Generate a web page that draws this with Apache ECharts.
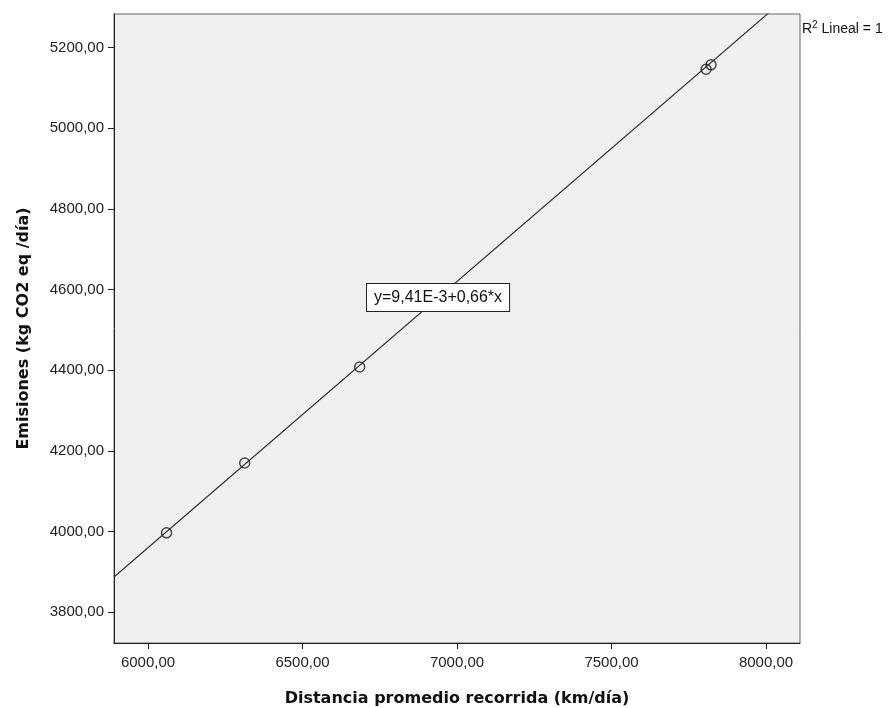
<!DOCTYPE html>
<html>
<head>
<meta charset="utf-8">
<script src="https://cdn.jsdelivr.net/npm/echarts@6/dist/echarts.min.js"></script>
<style>
  html, body { margin: 0; padding: 0; background: #fff; }
  #chart { width: 890px; height: 708px; }
</style>
</head>
<body>
<div id="chart"></div>
<script>
// observed points (distance km/dia, emissions kg CO2 eq/dia)
var distancia = [6060, 6313, 6685, 7806, 7822];
var emisiones = [3997, 4170, 4408, 5146, 5157];

// linear fit reported by the chart
var intercepto = 9.41e-3;
var pendiente = 0.66;

var xMin = 5890, xMax = 8110;
var yMin = 3724, yMax = 5283;
var xTicks = [6000, 6500, 7000, 7500, 8000];
var yTicks = [3800, 4000, 4200, 4400, 4600, 4800, 5000, 5200];

var puntos = distancia.map(function (d, i) { return [d, emisiones[i]]; });
var ajuste = [[xMin, intercepto + pendiente * xMin], [xMax, intercepto + pendiente * xMax]];

var fmt = function (v) { return v.toFixed(2).replace('.', ','); };

var chart = echarts.init(document.getElementById('chart'));
chart.setOption({
  animation: false,
  grid: {
    left: 114, right: 90, top: 14, bottom: 65,
    outerBoundsMode: 'none',
    show: true, backgroundColor: '#f0f0f0', borderColor: '#666', borderWidth: 1
  },
  xAxis: {
    type: 'value', min: xMin, max: xMax,
    name: 'Distancia promedio recorrida (km/día)',
    nameLocation: 'middle', nameGap: 48,
    nameTextStyle: { fontFamily: 'DejaVu Sans', fontWeight: 'bold', fontSize: 16, color: '#111' },
    axisLine: { show: true, onZero: false, lineStyle: { color: '#222', width: 1 } },
    axisTick: { show: true, length: 6, lineStyle: { color: '#222' }, customValues: xTicks },
    axisLabel: { fontFamily: 'Liberation Sans', fontSize: 15, color: '#222', margin: 12,
      customValues: xTicks, formatter: fmt },
    splitLine: { show: false }
  },
  yAxis: {
    type: 'value', min: yMin, max: yMax,
    name: 'Emisiones (kg CO2 eq /día)',
    nameLocation: 'middle', nameGap: 82,
    nameTextStyle: { fontFamily: 'DejaVu Sans', fontWeight: 'bold', fontSize: 16, color: '#111' },
    axisLine: { show: true, onZero: false, lineStyle: { color: '#222', width: 1 } },
    axisTick: { show: true, length: 6, lineStyle: { color: '#222' }, customValues: yTicks },
    axisLabel: { fontFamily: 'Liberation Sans', fontSize: 15, color: '#222', margin: 10,
      customValues: yTicks, formatter: fmt },
    splitLine: { show: false }
  },
  series: [{
    type: 'line',
    data: ajuste,
    symbol: 'none',
    clip: true,
    lineStyle: { color: '#333', width: 1.2 },
    z: 2
  }, {
    type: 'scatter',
    data: puntos,
    symbol: 'circle',
    symbolSize: 10,
    itemStyle: { color: 'rgba(0,0,0,0)', borderColor: '#222', borderWidth: 1.5 },
    z: 3
  }],
  graphic: [{
    type: 'text',
    left: 366, top: 283,
    style: {
      text: 'y=9,41E-3+0,66*x',
      fontFamily: 'Liberation Sans', fontSize: 16, fill: '#111',
      backgroundColor: '#fff', borderColor: '#222', borderWidth: 1,
      padding: [6, 7, 5, 7]
    },
    z: 10
  }, {
    type: 'text',
    left: 802, top: 20,
    style: {
      text: '{r|R}{s|2}{r| Lineal = 1}',
      rich: {
        r: { fontFamily: 'Liberation Sans', fontSize: 14, fill: '#111', verticalAlign: 'bottom' },
        s: { fontFamily: 'Liberation Sans', fontSize: 10, fill: '#111', verticalAlign: 'top', padding: [0, 0, 6, 0] }
      }
    }
  }]
});
</script>
</body>
</html>
